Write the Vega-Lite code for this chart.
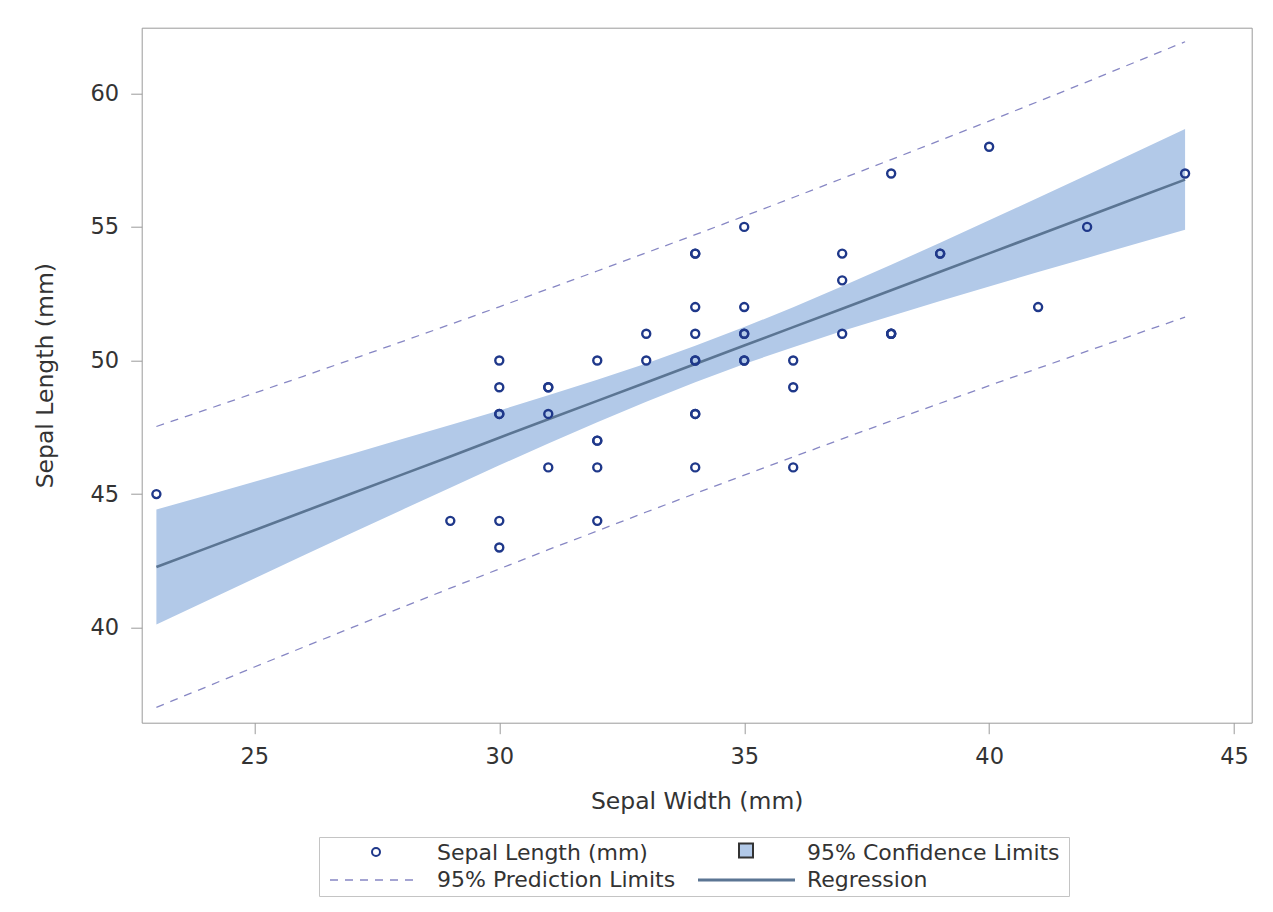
{
  "$schema": "https://vega.github.io/schema/vega-lite/v6.json",
  "autosize": {"type": "none"},
  "padding": {"left": 141.7, "top": 27.7, "right": 21.3, "bottom": 189.3},
  "width": 1110,
  "height": 695,
  "background": "white",
  "config": {
    "view": {"stroke": "#9a9a9a", "strokeWidth": 1},
    "font": "DejaVu Sans",
    "axis": {
      "grid": false,
      "domain": false,
      "tickSize": 11,
      "tickColor": "#9a9a9a",
      "tickWidth": 1,
      "labelPadding": 12,
      "labelFont": "DejaVu Sans",
      "labelFontSize": 22.5,
      "labelColor": "#333333",
      "labelFlush": false,
      "labelOverlap": false,
      "labelBound": false,
      "titleFont": "DejaVu Sans",
      "titleFontSize": 23.5,
      "titleFontWeight": "normal",
      "titleColor": "#333333"
    },
    "legend": {
      "orient": "none",
      "direction": "horizontal",
      "legendX": 177.3,
      "legendY": 809.3,
      "columns": 2,
      "rowPadding": 5,
      "columnPadding": 0,
      "padding": 5,
      "strokeColor": "#c4c4c4",
      "fillColor": "white",
      "symbolSize": 400,
      "symbolStrokeWidth": 2,
      "symbolOpacity": 1,
      "symbolOffset": 41,
      "labelOffset": 50,
      "labelFont": "DejaVu Sans",
      "labelFontSize": 22,
      "labelColor": "#333333",
      "labelLimit": 400,
      "labelBaseline": "middle"
    }
  },
  "datasets": {
    "obs": [
      {"SepalWidth": 23, "SepalLength": 45},
      {"SepalWidth": 29, "SepalLength": 44},
      {"SepalWidth": 30, "SepalLength": 49},
      {"SepalWidth": 30, "SepalLength": 48},
      {"SepalWidth": 30, "SepalLength": 43},
      {"SepalWidth": 30, "SepalLength": 50},
      {"SepalWidth": 30, "SepalLength": 44},
      {"SepalWidth": 30, "SepalLength": 48},
      {"SepalWidth": 31, "SepalLength": 46},
      {"SepalWidth": 31, "SepalLength": 49},
      {"SepalWidth": 31, "SepalLength": 48},
      {"SepalWidth": 31, "SepalLength": 49},
      {"SepalWidth": 32, "SepalLength": 47},
      {"SepalWidth": 32, "SepalLength": 47},
      {"SepalWidth": 32, "SepalLength": 50},
      {"SepalWidth": 32, "SepalLength": 44},
      {"SepalWidth": 32, "SepalLength": 46},
      {"SepalWidth": 33, "SepalLength": 51},
      {"SepalWidth": 33, "SepalLength": 50},
      {"SepalWidth": 34, "SepalLength": 46},
      {"SepalWidth": 34, "SepalLength": 50},
      {"SepalWidth": 34, "SepalLength": 48},
      {"SepalWidth": 34, "SepalLength": 54},
      {"SepalWidth": 34, "SepalLength": 48},
      {"SepalWidth": 34, "SepalLength": 50},
      {"SepalWidth": 34, "SepalLength": 52},
      {"SepalWidth": 34, "SepalLength": 54},
      {"SepalWidth": 34, "SepalLength": 51},
      {"SepalWidth": 35, "SepalLength": 51},
      {"SepalWidth": 35, "SepalLength": 51},
      {"SepalWidth": 35, "SepalLength": 52},
      {"SepalWidth": 35, "SepalLength": 55},
      {"SepalWidth": 35, "SepalLength": 50},
      {"SepalWidth": 35, "SepalLength": 50},
      {"SepalWidth": 36, "SepalLength": 50},
      {"SepalWidth": 36, "SepalLength": 46},
      {"SepalWidth": 36, "SepalLength": 49},
      {"SepalWidth": 37, "SepalLength": 54},
      {"SepalWidth": 37, "SepalLength": 51},
      {"SepalWidth": 37, "SepalLength": 53},
      {"SepalWidth": 38, "SepalLength": 57},
      {"SepalWidth": 38, "SepalLength": 51},
      {"SepalWidth": 38, "SepalLength": 51},
      {"SepalWidth": 38, "SepalLength": 51},
      {"SepalWidth": 39, "SepalLength": 54},
      {"SepalWidth": 39, "SepalLength": 54},
      {"SepalWidth": 40, "SepalLength": 58},
      {"SepalWidth": 41, "SepalLength": 52},
      {"SepalWidth": 42, "SepalLength": 55},
      {"SepalWidth": 44, "SepalLength": 57}
    ],
    "fit": [
      {"x": 23, "fit": 42.27, "lclm": 40.12, "uclm": 44.42, "lcl": 37.02, "ucl": 47.53},
      {"x": 24, "fit": 42.96, "lclm": 40.98, "uclm": 44.94, "lcl": 37.77, "ucl": 48.15},
      {"x": 25, "fit": 43.65, "lclm": 41.84, "uclm": 45.46, "lcl": 38.53, "ucl": 48.78},
      {"x": 26, "fit": 44.34, "lclm": 42.70, "uclm": 45.99, "lcl": 39.27, "ucl": 49.41},
      {"x": 27, "fit": 45.03, "lclm": 43.55, "uclm": 46.51, "lcl": 40.01, "ucl": 50.05},
      {"x": 28, "fit": 45.72, "lclm": 44.40, "uclm": 47.05, "lcl": 40.75, "ucl": 50.70},
      {"x": 29, "fit": 46.41, "lclm": 45.24, "uclm": 47.59, "lcl": 41.48, "ucl": 51.35},
      {"x": 30, "fit": 47.11, "lclm": 46.08, "uclm": 48.13, "lcl": 42.20, "ucl": 52.01},
      {"x": 31, "fit": 47.80, "lclm": 46.89, "uclm": 48.70, "lcl": 42.92, "ucl": 52.68},
      {"x": 32, "fit": 48.49, "lclm": 47.69, "uclm": 49.28, "lcl": 43.62, "ucl": 53.35},
      {"x": 33, "fit": 49.18, "lclm": 48.46, "uclm": 49.89, "lcl": 44.33, "ucl": 54.03},
      {"x": 34, "fit": 49.87, "lclm": 49.19, "uclm": 50.55, "lcl": 45.02, "ucl": 54.71},
      {"x": 35, "fit": 50.56, "lclm": 49.87, "uclm": 51.25, "lcl": 45.71, "ucl": 55.40},
      {"x": 36, "fit": 51.25, "lclm": 50.50, "uclm": 51.99, "lcl": 46.39, "ucl": 56.10},
      {"x": 37, "fit": 51.94, "lclm": 51.10, "uclm": 52.78, "lcl": 47.07, "ucl": 56.81},
      {"x": 38, "fit": 52.63, "lclm": 51.67, "uclm": 53.58, "lcl": 47.74, "ucl": 57.52},
      {"x": 39, "fit": 53.32, "lclm": 52.23, "uclm": 54.41, "lcl": 48.40, "ucl": 58.24},
      {"x": 40, "fit": 54.01, "lclm": 52.77, "uclm": 55.25, "lcl": 49.06, "ucl": 58.96},
      {"x": 41, "fit": 54.70, "lclm": 53.31, "uclm": 56.09, "lcl": 49.71, "ucl": 59.69},
      {"x": 42, "fit": 55.39, "lclm": 53.84, "uclm": 56.94, "lcl": 50.35, "ucl": 60.43},
      {"x": 43, "fit": 56.08, "lclm": 54.37, "uclm": 57.80, "lcl": 50.99, "ucl": 61.18},
      {"x": 44, "fit": 56.77, "lclm": 54.89, "uclm": 58.66, "lcl": 51.62, "ucl": 61.93}
    ],
    "keys": [
      {"series": "Sepal Length (mm)"},
      {"series": "95% Confidence Limits"},
      {"series": "95% Prediction Limits"},
      {"series": "Regression"}
    ]
  },
  "layer": [
    {
      "data": {"name": "fit"},
      "mark": {"type": "area", "fill": "#b2c9e8", "opacity": 1, "clip": true},
      "encoding": {
        "x": {"field": "x", "type": "quantitative", "scale": {"domain": [22.70, 45.36], "nice": false, "zero": false},
              "axis": {"title": "Sepal Width (mm)", "values": [25, 30, 35, 40, 45], "titlePadding": 21}},
        "y": {"field": "lclm", "type": "quantitative", "scale": {"domain": [36.445, 62.455], "nice": false, "zero": false},
              "axis": {"title": "Sepal Length (mm)", "values": [40, 45, 50, 55, 60], "titlePadding": 33}},
        "y2": {"field": "uclm"}
      }
    },
    {
      "data": {"name": "fit"},
      "mark": {"type": "line", "stroke": "#8787c4", "strokeWidth": 1.3, "strokeDash": [8, 7], "clip": true},
      "encoding": {
        "x": {"field": "x", "type": "quantitative"},
        "y": {"field": "ucl", "type": "quantitative"}
      }
    },
    {
      "data": {"name": "fit"},
      "mark": {"type": "line", "stroke": "#8787c4", "strokeWidth": 1.3, "strokeDash": [8, 7], "clip": true},
      "encoding": {
        "x": {"field": "x", "type": "quantitative"},
        "y": {"field": "lcl", "type": "quantitative"}
      }
    },
    {
      "data": {"name": "fit"},
      "mark": {"type": "line", "stroke": "#5b7593", "strokeWidth": 2.6, "clip": true},
      "encoding": {
        "x": {"field": "x", "type": "quantitative"},
        "y": {"field": "fit", "type": "quantitative"}
      }
    },
    {
      "data": {"name": "obs"},
      "mark": {"type": "point", "shape": "circle", "filled": false, "stroke": "#1f388a", "size": 64, "strokeWidth": 2.4, "opacity": 1, "clip": true},
      "encoding": {
        "x": {"field": "SepalWidth", "type": "quantitative"},
        "y": {"field": "SepalLength", "type": "quantitative"}
      }
    },
    {
      "data": {"name": "keys"},
      "mark": {"type": "point", "opacity": 0, "filled": true},
      "encoding": {
        "fill": {
          "field": "series", "type": "nominal",
          "scale": {"domain": ["Sepal Length (mm)", "95% Confidence Limits", "95% Prediction Limits", "Regression"],
                    "range": ["transparent", "#b2c9e8", "#8787c4", "#5b7593"]},
          "legend": {"title": null}
        },
        "stroke": {
          "field": "series", "type": "nominal",
          "scale": {"domain": ["Sepal Length (mm)", "95% Confidence Limits", "95% Prediction Limits", "Regression"],
                    "range": ["#1f388a", "#333333", "transparent", "transparent"]},
          "legend": {"title": null}
        },
        "shape": {
          "field": "series", "type": "nominal",
          "scale": {"domain": ["Sepal Length (mm)", "95% Confidence Limits", "95% Prediction Limits", "Regression"],
                    "range": [
                      "M-0.4,-0.1A0.4,0.4 0 1,0 0.4,-0.1A0.4,0.4 0 1,0 -0.4,-0.1ZM-4.8,0M31.4,0",
                      "M-0.7,-0.95H0.7V0.45H-0.7ZM-4.8,0M31.4,0",
                      "M-4.6,-0.07h0.8v0.14h-0.8ZM-3.1,-0.07h0.8v0.14h-0.8ZM-1.6,-0.07h0.8v0.14h-0.8ZM-0.1,-0.07h0.8v0.14h-0.8ZM1.4,-0.07h0.8v0.14h-0.8ZM2.9,-0.07h0.8v0.14h-0.8ZM-4.8,0M31.4,0",
                      "M-4.8,-0.14H4.9V0.14H-4.8ZM-4.8,0M31.4,0"
                    ]},
          "legend": {"title": null}
        }
      }
    }
  ]
}
